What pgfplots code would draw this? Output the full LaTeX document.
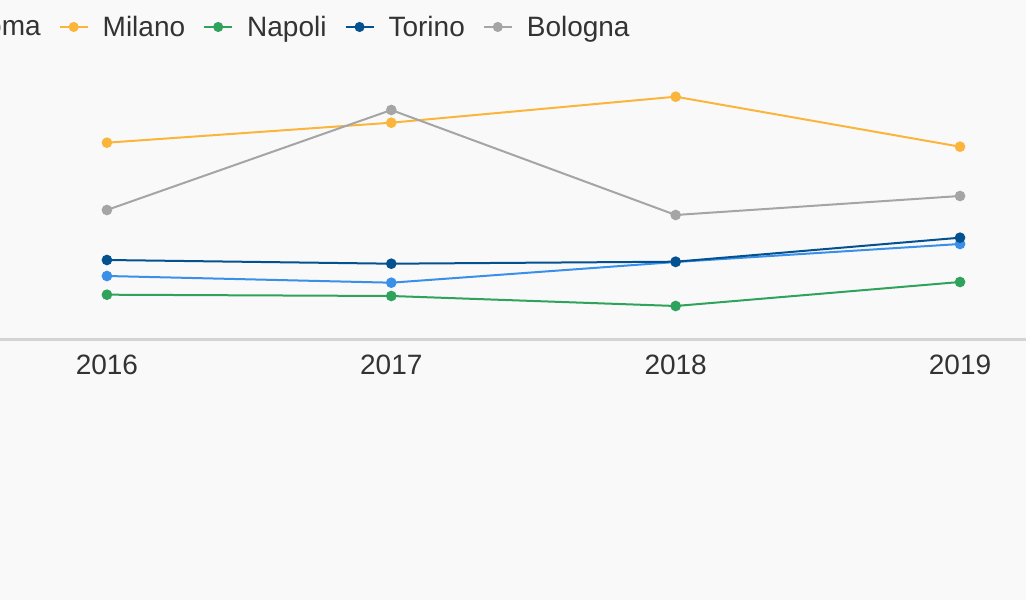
\documentclass[border=0pt]{standalone}
\usepackage{pgfplots}
\pgfplotsset{compat=1.18}
\usepackage{fontspec}
\setmainfont{Liberation Sans}
\definecolor{bg}{HTML}{F9F9F9}
\definecolor{txt}{HTML}{333333}
\definecolor{axln}{HTML}{D4D4D4}
\definecolor{cRoma}{HTML}{3A8FE8}
\definecolor{cMilano}{HTML}{FBB53B}
\definecolor{cNapoli}{HTML}{2FA25B}
\definecolor{cTorino}{HTML}{04518F}
\definecolor{cBologna}{HTML}{A5A5A5}
\begin{document}
\begin{tikzpicture}
\path[use as bounding box] (0pt,0pt) rectangle (769.5pt,450pt);
\clip (0pt,0pt) rectangle (769.5pt,450pt);
\fill[bg] (0pt,0pt) rectangle (769.5pt,450pt);
\begin{axis}[
  at={(0pt,195pt)}, anchor=south west,
  scale only axis, width=769.5pt, height=210pt,
  xmin=2015.624, xmax=2019.232, ymin=0, ymax=280,
  axis x line=bottom, axis y line=none,
  x axis line style={-, draw=axln, line width=2.25pt},
  xtick={2016,2017,2018,2019},
  xticklabels={2016,2017,2018,2019},
  ytick=\empty,
  major tick length=0pt,
  xticklabel style={font=\fontsize{21}{25}\selectfont, text=txt, inner sep=0pt, anchor=north, yshift=-11.25pt},
  clip=false,
  every axis plot/.append style={line width=1.5pt, mark=*, mark size=3.2pt, mark options={solid}},
  legend columns=-1,
  legend style={at={(-0.076,1.1179)}, anchor=west, draw=none, fill=none,
    font=\fontsize{21}{25}\selectfont, text=txt, inner sep=0pt, outer sep=0pt,
    nodes={inner sep=0pt, outer sep=0pt},
    /tikz/every odd column/.append style={column sep=10.5pt},
    /tikz/every even column/.append style={column sep=13.5pt}},
  legend image code/.code={\draw[mark repeat=2,mark phase=2, mark size=3pt] plot coordinates {(0pt,0pt) (10.5pt,0pt) (21pt,0pt)};},
]
\addplot[color=cRoma] coordinates {(2016,64) (2017,57.3) (2018,78) (2019,96)};
\addlegendentry{Roma}
\addplot[color=cMilano] coordinates {(2016,197.3) (2017,217.3) (2018,243.3) (2019,193.3)};
\addlegendentry{Milano}
\addplot[color=cNapoli] coordinates {(2016,45.3) (2017,44) (2018,34) (2019,58)};
\addlegendentry{Napoli}
\addplot[color=cTorino] coordinates {(2016,80) (2017,76.3) (2018,78.3) (2019,102.3)};
\addlegendentry{Torino}
\addplot[color=cBologna] coordinates {(2016,130) (2017,230) (2018,125) (2019,144)};
\addlegendentry{Bologna}
\end{axis}
\end{tikzpicture}
\end{document}
